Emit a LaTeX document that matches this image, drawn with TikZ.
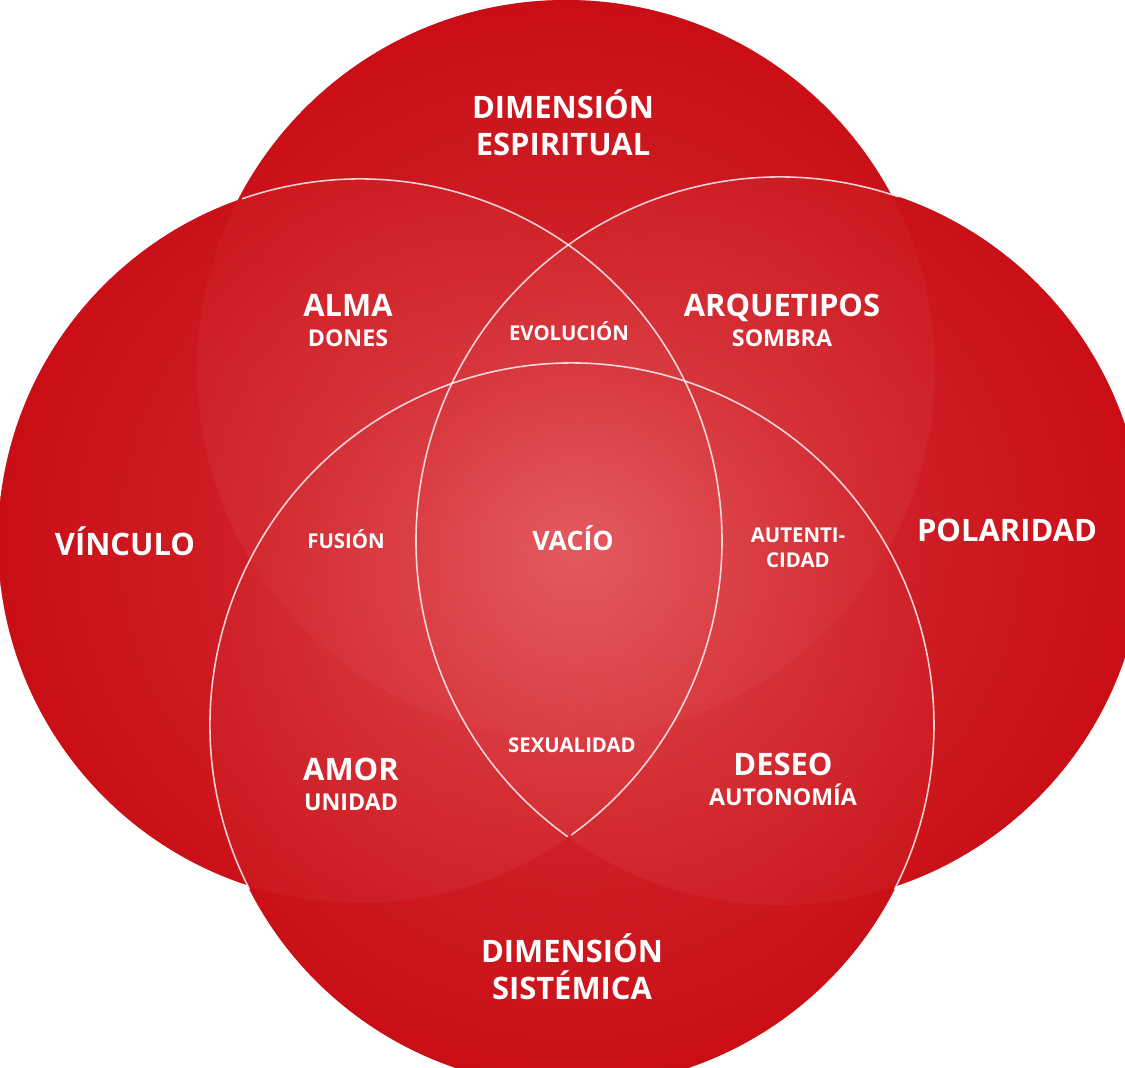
\documentclass[tikz,border=0pt]{standalone}
\usepackage{fontspec}
\setmainfont{Open Sans}

\definecolor{vdark}{RGB}{198,4,12}
\definecolor{vlight}{RGB}{230,98,103}
\pgfdeclareradialshading{glowtop}{\pgfpoint{0bp}{-12bp}}{color(0bp)=(vlight); color(38bp)=(vdark); color(50bp)=(vdark)}
\pgfdeclareradialshading{glowleft}{\pgfpoint{12bp}{0bp}}{color(0bp)=(vlight); color(38bp)=(vdark); color(50bp)=(vdark)}
\pgfdeclareradialshading{glowright}{\pgfpoint{-12bp}{0bp}}{color(0bp)=(vlight); color(38bp)=(vdark); color(50bp)=(vdark)}
\pgfdeclareradialshading{glowbottom}{\pgfpoint{0bp}{12bp}}{color(0bp)=(vlight); color(38bp)=(vdark); color(50bp)=(vdark)}
\newcommand\pairsub{\fontsize{6.6}{8.5}\selectfont}

\begin{document}
\begin{tikzpicture}[
  titletext/.style={text=white, inner sep=0pt, align=center, font=\bfseries\fontsize{8.8}{10.3}\selectfont},
  pairtext/.style={text=white, inner sep=0pt, align=center, font=\bfseries\fontsize{8.8}{8.5}\selectfont},
  minortext/.style={text=white, inner sep=0pt, align=center, font=\bfseries\fontsize{5.8}{7.1}\selectfont},
  whitearc/.style={draw=white, line width=0.45pt, draw opacity=0.8}
]
\useasboundingbox (0,0) rectangle (11.25,-10.67);
\clip (0,0) rectangle (11.25,-10.67);

% circle centres
\coordinate (cTop) at (5.66,-3.69);
\coordinate (cLeft) at (3.60,-5.41);
\coordinate (cRight) at (7.80,-5.41);
\coordinate (cBottom) at (5.72,-7.25);

% base and glow of the four circles
\fill [vdark] (cTop) circle (3.69) (cLeft) circle (3.62) (cRight) circle (3.64) (cBottom) circle (3.62);
\shade [shading=glowtop, fill opacity=0.5] (cTop) circle (3.69);
\shade [shading=glowleft, fill opacity=0.5] (cLeft) circle (3.62);
\shade [shading=glowright, fill opacity=0.5] (cRight) circle (3.64);
\shade [shading=glowbottom, fill opacity=0.5] (cBottom) circle (3.62);

% white outlines
\draw [whitearc] (cLeft) ++(109:3.62) arc [start angle=109, end angle=-54.3, radius=3.62];
\draw [whitearc] (cRight) ++(71:3.64) arc [start angle=71, end angle=234.3, radius=3.64];
\draw [whitearc] (cBottom) ++(207:3.62) arc [start angle=207, end angle=-27, radius=3.62];

% labels
\node [titletext, anchor=south] (espiritual) at (5.63,-1.56) {DIMENSIÓN\\ESPIRITUAL};
\node [titletext, anchor=south] (sistemica) at (5.72,-10.00) {DIMENSIÓN\\SISTÉMICA};
\node [titletext, anchor=base] (vinculo) at (1.25,-5.55) {VÍNCULO};
\node [titletext, anchor=base] (polaridad) at (10.07,-5.41) {POLARIDAD};
\node [pairtext, anchor=south] (alma) at (3.48,-3.47) {ALMA\\{\pairsub DONES}};
\node [pairtext, anchor=south] (arquetipos) at (7.82,-3.47) {ARQUETIPOS\\{\pairsub SOMBRA}};
\node [pairtext, anchor=south] (amor) at (3.51,-8.11) {AMOR\\{\pairsub UNIDAD}};
\node [pairtext, anchor=south] (deseo) at (7.83,-8.06) {DESEO\\{\pairsub AUTONOMÍA}};
\node [minortext, anchor=base] (evolucion) at (5.69,-3.40) {EVOLUCIÓN};
\node [minortext, anchor=base] (fusion) at (3.46,-5.48) {FUSIÓN};
\node [minortext, anchor=south] (autenticidad) at (7.98,-5.68) {AUTENTI-\\CIDAD};
\node [minortext, anchor=base] (sexualidad) at (5.72,-7.52) {SEXUALIDAD};
\node [titletext, anchor=base, font=\bfseries\fontsize{7.6}{9}\selectfont] (vacio) at (5.73,-5.50) {VACÍO};
\end{tikzpicture}
\end{document}
